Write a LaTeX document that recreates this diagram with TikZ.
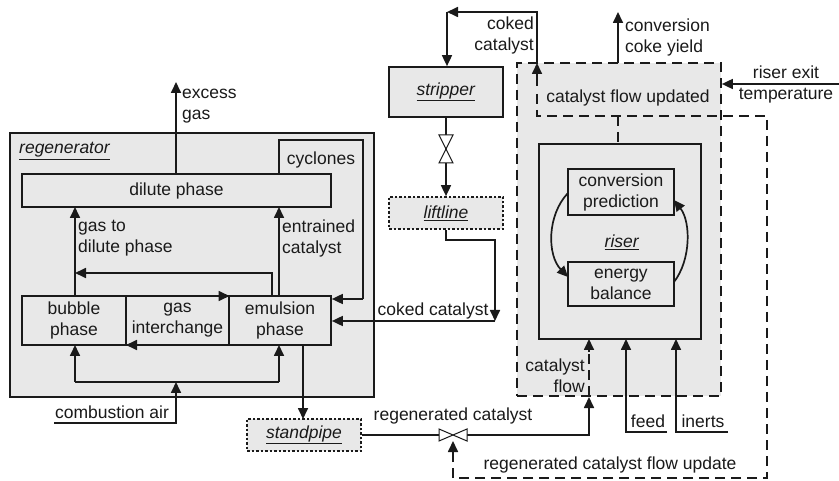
\documentclass[tikz,border=0pt]{standalone}
\usepackage{fontspec}
\setmainfont{Liberation Sans}
\usetikzlibrary{arrows.meta}
\definecolor{lc}{HTML}{1A1A1A}
\definecolor{bg}{HTML}{E8E8E8}
\newcommand\txt{\fontsize{17.5}{21}\selectfont}
\newcommand\ulit[1]{\underline{\textit{#1}}}
\tikzset{
  ln/.style={draw=lc, line width=1.7pt},
  arr/.style={ln, -{Triangle[length=11pt,width=10pt]}},
  box/.style={draw=lc, fill=bg, line width=1.7pt, inner sep=0pt, align=center, font=\txt, text=lc},
  dbox/.style={box, dash pattern=on 10pt off 6pt},
  dotbox/.style={box, dash pattern=on 2.5pt off 2pt},
  lbl/.style={font=\txt, text=lc, inner sep=0pt},
  dsh/.style={dash pattern=on 10pt off 6pt},
  valve/.style={draw=lc, fill=white, line width=1pt},
}
\begin{document}
\begin{tikzpicture}[x=1pt,y=-1pt]
\useasboundingbox (0,0) rectangle (839,481);
\fill[white] (0,0) rectangle (839,481);

% ---------------- regenerator ----------------
\node[box, minimum width=364pt, minimum height=264pt] (regen) at (192,265) {};
\node[lbl, anchor=west] (regenl) at (19,151) {\ulit{regenerator}};
\node[box, minimum width=309pt, minimum height=33pt] (dil) at (176.5,190.5) {dilute phase};
\node[box, minimum width=104pt, minimum height=49pt] (bub) at (74,320.5) {bubble\\phase};
\node[box, minimum width=103pt, minimum height=49pt] (gint) at (177.5,320.5) {gas\\interchange};
\node[box, minimum width=102pt, minimum height=49pt] (emu) at (280,320.5) {emulsion\\phase};
\node[lbl] (cycl) at (321,160) {cyclones};

% cyclones outline and return
\coordinate (cyA) at (279,174);
\coordinate (cyB) at (279,140);
\coordinate (cyC) at (363,140);
\coordinate (cyD) at (363,299);
\draw[ln] (cyA) -- (cyB) -- (cyC) -- (cyD);
\draw[arr] (cyD) -- (emu.east |- cyD);

% excess gas
\coordinate (exg) at (176,82);
\draw[arr] (dil.north -| exg) -- (exg);
\node[lbl, anchor=west, align=left] (exgl) at (182,106) {excess\\gas};

% gas to dilute phase
\draw[arr] (75,296) -- (75,207);
\node[lbl, anchor=west, align=left] (gtdl) at (78,238) {gas to\\dilute phase};
\draw[arr] (272,296) -- (272,273) -- (75,273);

% entrained catalyst
\draw[arr] (279,296) -- (279,207);
\node[lbl, anchor=west, align=left] (entl) at (282,238) {entrained\\catalyst};

% gas interchange arrows
\draw[arr] (126,296) -- (229.5,296);
\draw[arr] (229,345) -- (126,345);

% combustion air
\coordinate (caS) at (54,423);
\coordinate (caC) at (176,423);
\coordinate (caT) at (176,382);
\draw[arr] (caS) -- (caC) -- (caT);
\node[lbl] (cal) at (112,412) {combustion air};
\draw[ln] (75,382) -- (279,382);
\draw[arr] (75,382) -- (75,345);
\draw[arr] (279,382) -- (279,345);

% ---------------- standpipe ----------------
\node[dotbox, minimum width=114pt, minimum height=32pt] (stand) at (304,435) {\ulit{standpipe}};
\draw[arr] (303,345) -- (303,419);

% ---------------- stripper / liftline ----------------
\node[box, minimum width=114pt, minimum height=50pt] (strip) at (446,92) {\ulit{stripper}};
\node[dotbox, minimum width=114pt, minimum height=32pt] (lift) at (446,213) {\ulit{liftline}};
\coordinate (v1) at (446,149);
\draw[ln] (strip.south) -- ([yshift=-14pt]v1);
\draw[arr] ([yshift=14pt]v1) -- (lift.north);
\draw[valve] (439,135) -- (453,135) -- (439,163) -- (453,163) -- cycle;

% liftline -> emulsion (coked catalyst)
\coordinate (ccA) at (446,240);
\coordinate (ccB) at (495,240);
\coordinate (ccC) at (495,321);
\draw[arr] (lift.south -| ccA) -- (ccA) -- (ccB) -- (ccC);
\draw[arr] (ccC) -- (emu.east |- ccC);
\node[lbl] (ccl) at (433,311) {coked catalyst};

% ---------------- riser ----------------
\node[dbox, minimum width=204pt, minimum height=333pt] (rout) at (619,229.5) {};
\node[box, minimum width=162pt, minimum height=195pt] (riser) at (620,241.5) {};
\node[lbl] (riserl) at (622,242) {\ulit{riser}};
\node[box, minimum width=106pt, minimum height=46pt] (conv) at (621,192) {conversion\\prediction};
\node[box, minimum width=106pt, minimum height=44pt] (ener) at (621,284) {energy\\balance};
\draw[arr] (568,193) .. controls (547,215) and (547,255) .. (568,277);
\draw[arr] (674,282) .. controls (691,260) and (691,222) .. (674,200);

% catalyst flow updated region
\node[lbl] (cful) at (628,98) {catalyst flow updated};
\draw[ln, dsh] (537,94) -- (537,116) -- (767,116) -- (767,478) -- (453,478) -- (453,452);
\draw[arr] (453,456) -- (453,441);
\draw[ln, dsh] (618,116) -- (riser.north -| 618,0);

% coked catalyst to stripper
\coordinate (tcA) at (537,12);
\coordinate (tcB) at (447,12);
\draw[arr] (537,86) -- (537,63);
\draw[arr] (537,63) -- (tcA) -- (tcB);
\draw[arr] (tcB) -- (strip.north -| tcB);
\node[lbl, anchor=east, align=right] (tccl) at (534,35) {coked\\catalyst};

% conversion coke yield
\coordinate (ccy) at (618,12);
\draw[arr] (618,63) -- (ccy);
\node[lbl, anchor=west, align=left] (ccyl) at (625,37) {conversion\\coke yield};

% riser exit temperature
\coordinate (ret) at (839,84);
\draw[arr] (ret) -- (rout.east |- ret);
\node[lbl, align=center] (retl) at (786,84.5) {riser exit\\temperature};

% regenerated catalyst
\coordinate (v2) at (453,435);
\coordinate (rcC) at (589,435);
\draw[ln] (stand.east) -- (439,435);
\draw[arr] (467,435) -- (rcC) -- (589,397);
\draw[valve] (439,429) -- (439,441) -- (467,429) -- (467,441) -- cycle;
\node[lbl] (rcl) at (453,416) {regenerated catalyst};

% catalyst flow into riser
\draw[ln, dsh] (589,396) -- (589,352);
\draw[arr] (589,352) -- (589,339);
\node[lbl, anchor=east, align=right] (cfl) at (585,376) {catalyst\\flow};

% feed and inerts
\draw[arr] (667,432) -- (626,432) -- (626,339);
\node[lbl] (feedl) at (648,421) {feed};
\draw[arr] (728,432) -- (676,432) -- (676,339);
\node[lbl] (inl) at (703,421) {inerts};

\node[lbl] (rcfu) at (610,465) {regenerated catalyst flow update};
\end{tikzpicture}
\end{document}
